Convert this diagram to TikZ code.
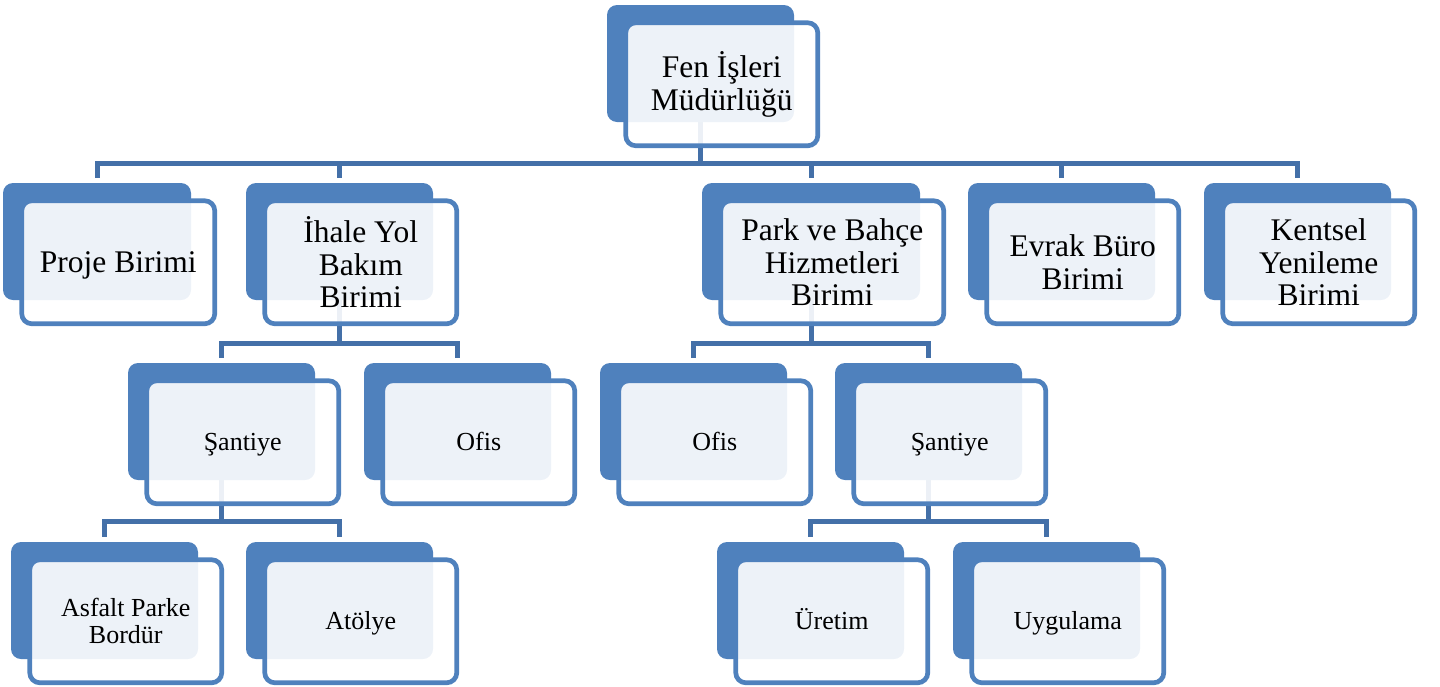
\documentclass[tikz,border=0pt]{standalone}
\usepackage{fontspec}
\setmainfont{Liberation Serif}
\usetikzlibrary{backgrounds,calc}
\definecolor{acc}{RGB}{79,129,189}
\definecolor{conncol}{RGB}{68,112,168}
\tikzset{
  backbox/.style={fill=acc, draw=none, rounded corners=10pt, minimum height=117pt, inner sep=0pt, outer sep=0pt},
  frontbox/.style={draw=acc, line width=4.7pt, fill=white, fill opacity=0.9, text opacity=1, rounded corners=10pt, minimum height=123pt, inner sep=0pt, align=center, text=black},
  topfont/.style={font=\fontsize{31.5}{33.5}\selectfont},
  bigfont/.style={font=\fontsize{31.5}{32.5}\selectfont},
  smallfont/.style={font=\fontsize{26}{27.3}\selectfont},
  bigone/.style={bigfont, text height=20.8pt, text depth=0pt},
  smallone/.style={smallfont, text height=16.8pt, text depth=0pt},
  conn/.style={draw=conncol, line width=5pt, line join=miter},
  toch/.style={shorten >=5pt}
}
\newcommand\orgunit[6]{%
  \node[backbox, minimum width=#4] (#1) at (#2+#4/2, #3+58.5) {};
  \node[frontbox, minimum width=#4+5, #5] (#1F) at (#2+#4/2+21.25, #3+79.25) {#6};
}
\begin{document}
\begin{tikzpicture}[x=1pt,y=-1pt]
\useasboundingbox (0,0) rectangle (1440,686);
\orgunit{top}{607}{5}{187}{topfont}{Fen İşleri\\Müdürlüğü}
\orgunit{proje}{3}{183}{188}{bigone}{Proje Birimi}
\orgunit{ihale}{246}{183}{187}{bigfont}{İhale Yol\\Bakım\\Birimi}
\orgunit{park}{702}{183}{218}{bigfont}{Park ve Bahçe\\Hizmetleri\\Birimi}
\orgunit{evrak}{968}{183}{187}{bigfont}{Evrak Büro\\Birimi}
\orgunit{kentsel}{1204}{183}{187}{bigfont}{Kentsel\\Yenileme\\Birimi}
\orgunit{santa}{128}{363}{187}{smallone}{Şantiye}
\orgunit{ofisa}{364}{363}{187}{smallone}{Ofis}
\orgunit{ofisb}{600}{363}{187}{smallone}{Ofis}
\orgunit{santb}{835}{363}{187}{smallone}{Şantiye}
\orgunit{asfalt}{11}{542}{187}{smallfont}{Asfalt Parke\\Bordür}
\orgunit{atolye}{246}{542}{187}{smallone}{Atölye}
\orgunit{uretim}{717}{542}{187}{smallone}{Üretim}
\orgunit{uygulama}{953}{542}{187}{smallone}{Uygulama}
\coordinate (ya) at (0,163.5);
\coordinate (yb) at (0,343);
\coordinate (yc) at (0,521);
\begin{scope}[on background layer]
  \draw[conn] (top.south) -- (top.south |- ya);
  \foreach \c in {proje,ihale,park,evrak,kentsel}
    \draw[conn,toch] (top.south |- ya) -| (\c.north);
  \draw[conn] (ihale.south) -- (ihale.south |- yb);
  \foreach \c in {santa,ofisa}
    \draw[conn,toch] (ihale.south |- yb) -| (\c.north);
  \draw[conn] (park.south) -- (park.south |- yb);
  \foreach \c in {ofisb,santb}
    \draw[conn,toch] (park.south |- yb) -| (\c.north);
  \draw[conn] (santa.south) -- (santa.south |- yc);
  \foreach \c in {asfalt,atolye}
    \draw[conn,toch] (santa.south |- yc) -| (\c.north);
  \draw[conn] (santb.south) -- (santb.south |- yc);
  \foreach \c in {uretim,uygulama}
    \draw[conn,toch] (santb.south |- yc) -| (\c.north);
\end{scope}
\end{tikzpicture}
\end{document}
